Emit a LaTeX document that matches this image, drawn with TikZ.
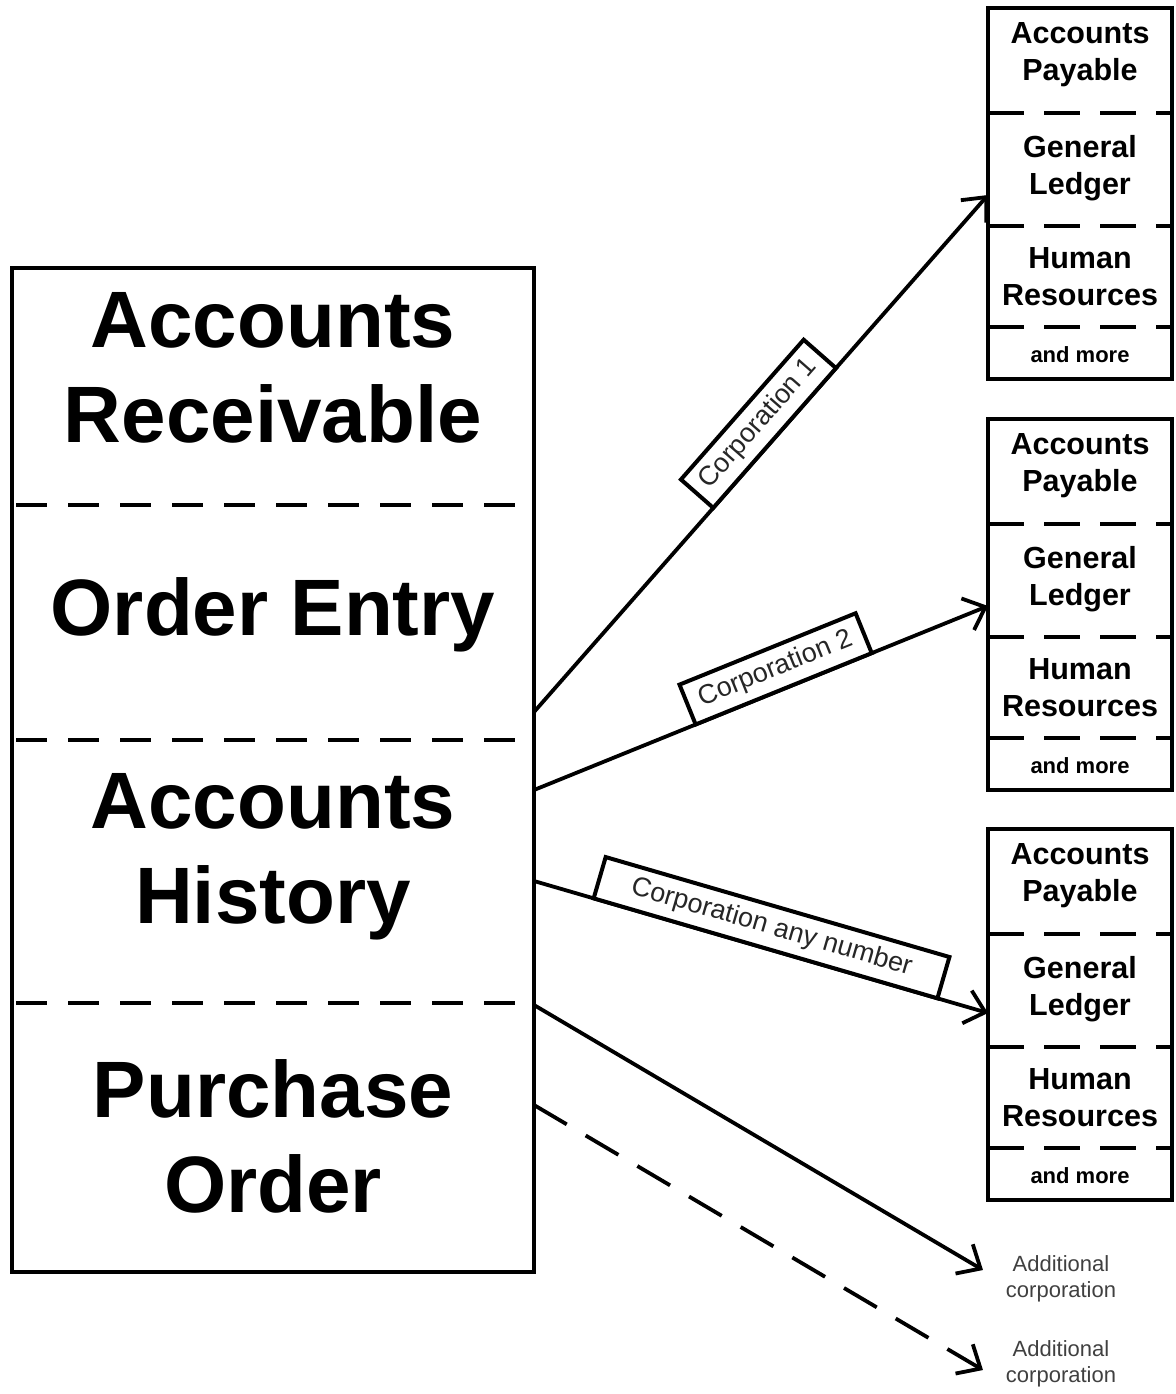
\documentclass[tikz,border=0pt]{standalone}
\usepackage{fontspec}
\setmainfont{Liberation Sans}
\usetikzlibrary{arrows.meta,calc}
\begin{document}
\begin{tikzpicture}[x=1pt,y=-1pt, line width=4pt,
  big/.style={font=\fontsize{80}{95}\selectfont\bfseries, align=center, inner sep=0pt},
  small/.style={font=\fontsize{30.5}{37}\selectfont\bfseries, align=center, inner sep=0pt},
  more/.style={font=\fontsize{22}{26}\selectfont\bfseries, inner sep=0pt},
  frame/.style={draw, line width=3.5pt, minimum width=184pt, minimum height=371pt, anchor=north west, inner sep=0pt, outer sep=0pt},
  mainframe/.style={draw, line width=4pt, minimum width=522pt, minimum height=1004pt, anchor=north west, inner sep=0pt, outer sep=0pt},
  divA/.style={line width=4pt, dash pattern=on 31pt off 21pt, dash phase=48pt},
  divB/.style={line width=4pt, dash pattern=on 36pt off 20pt},
  lbl/.style={draw, fill=white, line width=4pt, text=black!85, font=\fontsize{27}{30}\selectfont, minimum height=43pt, inner sep=0pt, outer sep=0pt, sloped, above},
  conn/.style={line width=3.8pt, -{Straight Barb[length=19pt,width=34pt]}},
  dashconn/.style={conn, dash pattern=on 38pt off 22pt},
  addtxt/.style={font=\fontsize{22}{26}\selectfont, text=black!75, align=center, inner sep=0pt}
]
\useasboundingbox (0,0) rectangle (1175,1394);

% main box
\node[mainframe] (main) at (12,268) {};
\node[big] (ar) at (273,367.5) {Accounts\\Receivable};
\node[big] (oe) at (273,615) {Order Entry};
\node[big] (ah) at (273,857) {Accounts\\History};
\node[big] (po) at (273,1136) {Purchase\\Order};
\draw[divA] (12,505) -- (534,505);
\draw[divA] (12,740) -- (534,740);
\draw[divA] (12,1003) -- (534,1003);

% right boxes
\foreach \o/\i in {0/1,411/2,821/3} {
  \node[frame] (rb\i) at (988,8+\o) {};
  \node[small] (ap\i) at (1080,55+\o) {Accounts\\Payable};
  \node[small] (gl\i) at (1080,168+\o) {General\\Ledger};
  \node[small] (hr\i) at (1080,276.5+\o) {Human\\Resources};
  \node[more] (mo\i) at (1080,355+\o) {and more};
  \draw[divB] (988,113+\o) -- (1172,113+\o);
  \draw[divB] (988,226+\o) -- (1172,226+\o);
  \draw[divB] (988,327+\o) -- (1172,327+\o);
}

% additional corporations
\node[addtxt] (ad1) at (1061,1279) {Additional\\corporation};
\node[addtxt] (ad2) at (1061,1364) {Additional\\corporation};

% start points on the main box
\coordinate (s1) at ($(main.north east)+(0,444)$);
\coordinate (s2) at ($(main.north east)+(0,522)$);
\coordinate (s3) at ($(main.north east)+(0,613)$);
\coordinate (s4) at ($(main.north east)+(0,737)$);
\coordinate (s5) at ($(main.north east)+(0,837)$);

% connectors
\draw[conn] (s1) -- node[lbl, pos=0.53, minimum width=186pt] (c1) {Corporation 1} ($(rb1.west|-gl1)+(0,27)$);
\draw[conn] (s2) -- node[lbl, pos=0.55, minimum width=190pt] (c2) {Corporation 2} ($(rb2.west|-gl2)+(0,27)$);
\draw[conn] (s3) -- node[lbl, pos=0.51, minimum width=358pt] (c3) {Corporation any number} ($(rb3.west|-gl3)+(0,24)$);
\draw[conn] (s4) -- ($(ad1.west)+(-21,-9)$);
\draw[dashconn] (s5) -- ($(ad2.west)+(-21,6)$);
\end{tikzpicture}
\end{document}
